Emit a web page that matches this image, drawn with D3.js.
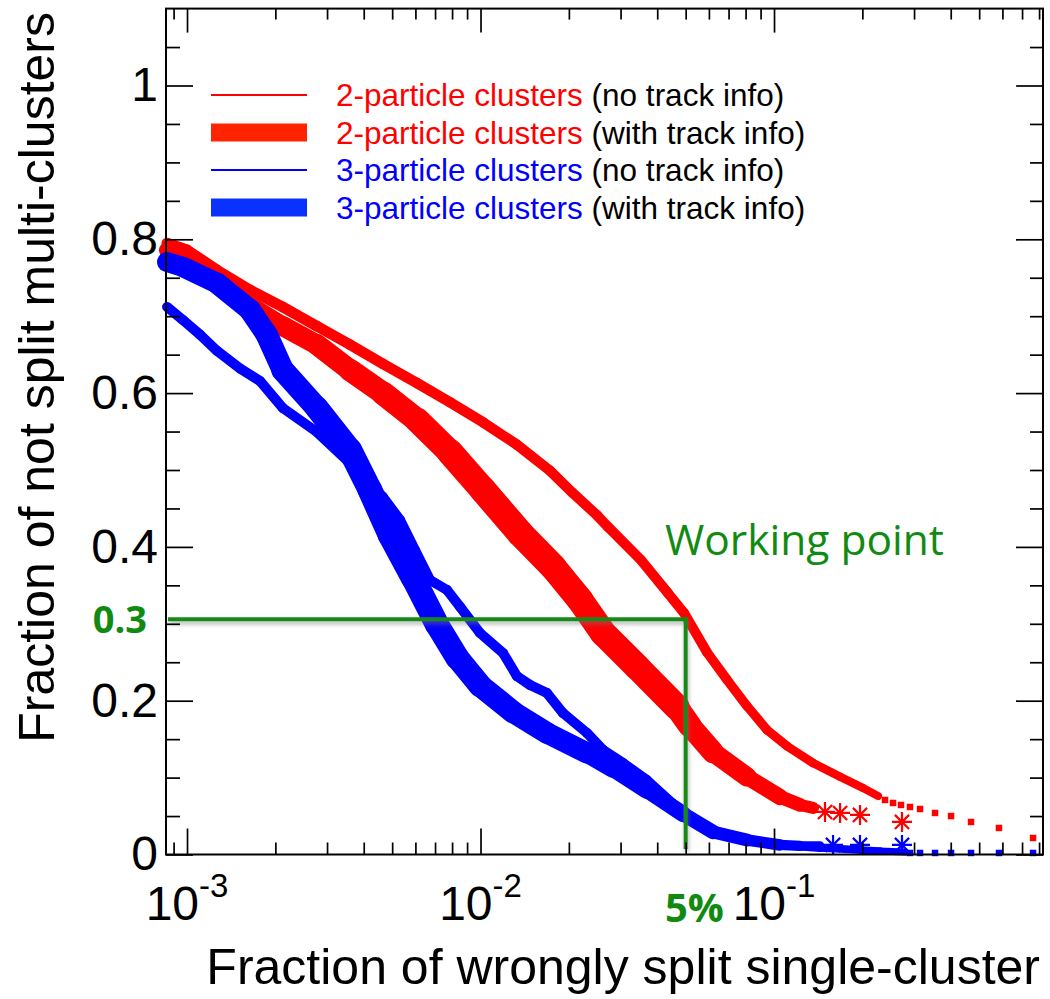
<!DOCTYPE html>
<html>
<head>
<meta charset="utf-8">
<script src="https://cdn.jsdelivr.net/npm/d3@7"></script>
<style>
  body { margin: 0; background: #fff; }
  svg { display: block; }
</style>
</head>
<body>
<script>
// values
// x = fraction of wrongly split single-cluster, y = fraction of not split multi-clusters

// 2-particle clusters, no track info (dense part + sparse markers at the end)
var red2NoTrackX = [0.000855, 0.001, 0.001265, 0.00164, 0.00212, 0.00277, 0.00359, 0.00465, 0.00608, 0.00787,
    0.0102, 0.0133, 0.01725, 0.0205, 0.02495, 0.0272, 0.0352, 0.0435, 0.0494, 0.0591,
    0.0692, 0.0809, 0.0947, 0.1107, 0.1358, 0.1679, 0.201, 0.2261];
var red2NoTrackY = [0.795, 0.786, 0.760, 0.734, 0.712, 0.687, 0.663, 0.638, 0.613, 0.588,
    0.562, 0.533, 0.499, 0.471, 0.441, 0.426, 0.383, 0.340, 0.314, 0.263,
    0.227, 0.193, 0.162, 0.141, 0.119, 0.101, 0.0865, 0.076];
var red2NoTrackTailX = [0.2389, 0.2544, 0.2708, 0.2906, 0.3144, 0.3537, 0.401, 0.469, 0.584, 0.763];
var red2NoTrackTailY = [0.0709, 0.067, 0.0644, 0.0618, 0.0592, 0.054, 0.050, 0.0423, 0.0345, 0.0215];

// 2-particle clusters, with track info
var red2TrackX = [0.000855, 0.001, 0.001265, 0.00164, 0.00212, 0.00277, 0.00359, 0.00465, 0.00608, 0.00787,
    0.0102, 0.01363, 0.01766, 0.02183, 0.02615, 0.03414, 0.04654, 0.05153, 0.06197, 0.0809,
    0.1048, 0.1226, 0.1358];
var red2TrackY = [0.786, 0.776, 0.747, 0.713, 0.687, 0.663, 0.630, 0.600, 0.565, 0.523,
    0.474, 0.418, 0.374, 0.331, 0.288, 0.244, 0.192, 0.168, 0.133, 0.101,
    0.0748, 0.0644, 0.0605];
var red2TrackTailX = [0.1492, 0.1679, 0.1963, 0.2729];
var red2TrackTailY = [0.0553, 0.054, 0.0514, 0.0423];

// 3-particle clusters, no track info
var blue3NoTrackX = [0.000855, 0.000969, 0.001107, 0.001265, 0.001516, 0.001773, 0.00212, 0.00277, 0.00359, 0.00465,
    0.00532, 0.00598, 0.00673, 0.00769, 0.00852, 0.00996, 0.01193, 0.0133, 0.01475, 0.01685,
    0.0191, 0.02306, 0.02615, 0.03059, 0.03693, 0.04783, 0.06197, 0.0809, 0.1048, 0.1434,
    0.1963, 0.2297, 0.2794];
var blue3NoTrackY = [0.712, 0.695, 0.676, 0.655, 0.632, 0.6157, 0.5806, 0.5494, 0.5091, 0.4649,
    0.435, 0.396, 0.357, 0.344, 0.322, 0.288, 0.262, 0.232, 0.2204, 0.21,
    0.184, 0.158, 0.136, 0.119, 0.0969, 0.0579, 0.0319, 0.0189, 0.0124, 0.0085,
    0.0059, 0.0046, 0.0033];
var blue3NoTrackTailX = [0.2906, 0.3144, 0.3537, 0.401, 0.469, 0.584, 0.763];
var blue3NoTrackTailY = [0.002, 0.002, 0.002, 0.002, 0.002, 0.002, 0.002];

// 3-particle clusters, with track info
var blue3TrackX = [0.000855, 0.000969, 0.001265, 0.00164, 0.001873, 0.00212, 0.00277, 0.00359, 0.0042, 0.00492,
    0.00589, 0.00711, 0.00832, 0.00996, 0.0129, 0.01685, 0.02306, 0.02828, 0.03693, 0.04897,
    0.06197, 0.0809, 0.1048, 0.1226, 0.1434];
var blue3TrackY = [0.7705, 0.764, 0.743, 0.708, 0.6755, 0.630, 0.5806, 0.526, 0.474, 0.4155,
    0.3602, 0.2991, 0.2562, 0.2198, 0.1853, 0.158, 0.132, 0.1125, 0.0839, 0.0527,
    0.0293, 0.0189, 0.0124, 0.0111, 0.0111];
var blue3TrackTailX = [0.1589, 0.1963, 0.2729];
var blue3TrackTailY = [0.0124, 0.0124, 0.0124];

// working point
var workingPointX = 0.05;
var workingPointY = 0.306;
var workingPointLabels = ["Working point", "0.3", "5%"];

// legend texts
var legendNames = ["2-particle clusters", "2-particle clusters", "3-particle clusters", "3-particle clusters"];
var legendNotes = ["(no track info)", "(with track info)", "(no track info)", "(with track info)"];

// ticks
var xMajorTicks = [1e-3, 1e-2, 1e-1];
var xMinorTicks = [9e-4, 2e-3, 3e-3, 4e-3, 5e-3, 6e-3, 7e-3, 8e-3, 9e-3,
    2e-2, 3e-2, 4e-2, 5e-2, 6e-2, 7e-2, 8e-2, 9e-2, 0.2, 0.3, 0.4, 0.5, 0.6, 0.7, 0.8];
var yMajorTicks = [0, 0.2, 0.4, 0.6, 0.8, 1];
var yMinorTicks = [0.05, 0.1, 0.15, 0.25, 0.3, 0.35, 0.45, 0.5, 0.55, 0.65, 0.7, 0.75,
    0.85, 0.9, 0.95, 1.05];

var svgWidth = 1050, svgHeight = 999;
var frame = {left: 166, right: 1043, top: 8.6, bottom: 854.5};
var fontMain = "'Liberation Sans', Arial, Helvetica, sans-serif";
var fontNote = "'Open Sans', 'Noto Sans', sans-serif";
var red = "#ff0000", blue = "#0000ff", green = "#128a12";

var xScale = d3.scaleLog()
        .domain([0.000848, 0.825])
        .range([frame.left, frame.right]);
var yScale = d3.scaleLinear()
        .domain([0, 1.1])
        .range([frame.bottom, frame.top]);

var svg = d3.select("body").append("svg")
        .attr("width", svgWidth)
        .attr("height", svgHeight);

// shadow under the green lines
svg.append("defs").append("filter")
        .attr("id", "shadow")
        .attr("x", "-20%").attr("y", "-20%")
        .attr("width", "140%").attr("height", "140%")
    .append("feDropShadow")
        .attr("dx", 1).attr("dy", 3)
        .attr("stdDeviation", 2)
        .attr("flood-color", "#777")
        .attr("flood-opacity", 0.55);

var plot = svg.append("g").attr("class", "plot");

// band drawn segment by segment, width follows x
function drawBand(xs, ys, color, widthScale) {
    var g = plot.append("g");
    for (var i = 0; i < xs.length - 1; i++) {
        g.append("line")
            .attr("x1", xScale(xs[i])).attr("y1", yScale(ys[i]))
            .attr("x2", xScale(xs[i + 1])).attr("y2", yScale(ys[i + 1]))
            .attr("stroke", color)
            .attr("stroke-width", widthScale(Math.sqrt(xs[i] * xs[i + 1])))
            .attr("stroke-linecap", "round");
    }
}

// 8 arm star marker
var starSymbol = {
    draw: function(context, size) {
        var r = Math.sqrt(size) / 2;
        var d = r * Math.SQRT1_2;
        context.moveTo(0, -r); context.lineTo(0, r);
        context.moveTo(-r, 0); context.lineTo(r, 0);
        context.moveTo(-d, -d); context.lineTo(d, d);
        context.moveTo(-d, d); context.lineTo(d, -d);
    }
};

function drawSquares(xs, ys, color) {
    plot.append("g").selectAll("path")
        .data(xs)
        .enter()
        .append("path")
        .attr("transform", function(d, i) { return "translate(" + xScale(d) + "," + yScale(ys[i]) + ")"; })
        .attr("d", d3.symbol().type(d3.symbolSquare).size(42))
        .attr("fill", color);
}

function drawStars(xs, ys, color) {
    plot.append("g").selectAll("path")
        .data(xs)
        .enter()
        .append("path")
        .attr("transform", function(d, i) { return "translate(" + xScale(d) + "," + yScale(ys[i]) + ")"; })
        .attr("d", d3.symbol().type(starSymbol).size(400))
        .attr("fill", "none")
        .attr("stroke", color)
        .attr("stroke-width", 2.2);
}

var thinRedWidth = d3.scaleLog().domain([1e-3, 0.05, 0.22]).range([11, 10, 8]).clamp(true);
var thickRedWidth = d3.scaleLog().domain([9e-4, 3e-3, 1e-2, 4e-2, 0.08, 0.13]).range([16, 21, 27, 26, 18, 12]).clamp(true);
var thinBlueWidth = d3.scaleLog().domain([1e-3, 0.03, 0.28]).range([10, 10, 7]).clamp(true);
var thickBlueWidth = d3.scaleLog().domain([9e-4, 5e-3, 2e-2, 0.06, 0.14]).range([20, 25, 21, 14, 9]).clamp(true);

drawBand(red2NoTrackX, red2NoTrackY, red, thinRedWidth);
drawSquares(red2NoTrackTailX, red2NoTrackTailY, red);
drawBand(red2TrackX, red2TrackY, red, thickRedWidth);
drawStars(red2TrackTailX, red2TrackTailY, red);
drawBand(blue3NoTrackX, blue3NoTrackY, blue, thinBlueWidth);
drawSquares(blue3NoTrackTailX, blue3NoTrackTailY, blue);
drawBand(blue3TrackX, blue3TrackY, blue, thickBlueWidth);
drawStars(blue3TrackTailX, blue3TrackTailY, blue);

// working point lines
var wp = svg.append("g").attr("filter", "url(#shadow)");
wp.append("line")
    .attr("x1", frame.left + 2).attr("x2", xScale(workingPointX) + 2)
    .attr("y1", yScale(workingPointY)).attr("y2", yScale(workingPointY))
    .attr("stroke", green).attr("stroke-width", 4);
wp.append("line")
    .attr("x1", xScale(workingPointX)).attr("x2", xScale(workingPointX))
    .attr("y1", yScale(workingPointY) - 2).attr("y2", yScale(0.007))
    .attr("stroke", green).attr("stroke-width", 4);

// frame ticks on all four sides, pointing inwards
var axes = svg.append("g").attr("class", "axes");
function tickAxis(axisFn, values, size, translate) {
    axes.append("g")
        .attr("transform", translate)
        .call(axisFn.tickValues(values).tickSize(size).tickSizeOuter(0).tickFormat(""))
        .call(function(g) { g.select(".domain").remove(); })
        .selectAll("line")
        .attr("stroke", "#000")
        .attr("stroke-width", 1.7);
}
tickAxis(d3.axisBottom(xScale), xMajorTicks, -26, "translate(0," + frame.bottom + ")");
tickAxis(d3.axisBottom(xScale), xMinorTicks, -12, "translate(0," + frame.bottom + ")");
tickAxis(d3.axisTop(xScale), xMajorTicks, -24, "translate(0," + frame.top + ")");
tickAxis(d3.axisTop(xScale), xMinorTicks, -11, "translate(0," + frame.top + ")");
tickAxis(d3.axisLeft(yScale), yMajorTicks, -27, "translate(" + frame.left + ",0)");
tickAxis(d3.axisLeft(yScale), yMinorTicks, -14, "translate(" + frame.left + ",0)");
tickAxis(d3.axisRight(yScale), yMajorTicks, -27, "translate(" + frame.right + ",0)");
tickAxis(d3.axisRight(yScale), yMinorTicks, -13, "translate(" + frame.right + ",0)");

svg.append("rect")
    .attr("x", frame.left).attr("y", frame.top)
    .attr("width", frame.right - frame.left)
    .attr("height", frame.bottom - frame.top)
    .attr("fill", "none")
    .attr("stroke", "#000")
    .attr("stroke-width", 2);

// y tick labels
var yLabels = svg.append("g")
    .attr("transform", "translate(" + frame.left + ",0)")
    .call(d3.axisLeft(yScale).tickValues(yMajorTicks).tickSize(0).tickPadding(8)
        .tickFormat(function(d) { return d === 0 || d === 1 ? String(d) : d3.format(".1f")(d); }));
yLabels.select(".domain").remove();
yLabels.selectAll("text")
    .attr("font-family", fontMain)
    .attr("font-size", 48)
    .attr("fill", "#000");

// x tick labels with exponents
var xLabels = svg.append("g").selectAll("text")
    .data(xMajorTicks)
    .enter()
    .append("text")
    .attr("x", function(d) { return xScale(d); })
    .attr("y", 920)
    .attr("text-anchor", "middle")
    .attr("font-family", fontMain)
    .attr("font-size", 48)
    .attr("fill", "#000")
    .text("10");
xLabels.append("tspan")
    .attr("dy", -23)
    .attr("font-size", 33)
    .text(function(d) { return String(Math.round(Math.log10(d))); });

// axis titles
svg.append("text")
    .attr("x", frame.right - 3)
    .attr("y", 984)
    .attr("text-anchor", "end")
    .attr("font-family", fontMain)
    .attr("font-size", 50)
    .attr("fill", "#000")
    .text("Fraction of wrongly split single-cluster");

svg.append("text")
    .attr("transform", "translate(54,12) rotate(-90)")
    .attr("text-anchor", "end")
    .attr("font-family", fontMain)
    .attr("font-size", 50)
    .attr("fill", "#000")
    .text("Fraction of not split multi-clusters");

// legend
var legendColors = [red, red, blue, blue];
var legend = svg.append("g").attr("class", "legend");
legendNames.forEach(function(name, i) {
    var rowY = 95 + i * 37.5;
    if (i % 2 === 0) {
        legend.append("line")
            .attr("x1", 211).attr("x2", 307)
            .attr("y1", rowY).attr("y2", rowY)
            .attr("stroke", legendColors[i])
            .attr("stroke-width", 2);
    } else {
        legend.append("rect")
            .attr("x", 211).attr("y", rowY - 9)
            .attr("width", 96).attr("height", 18)
            .attr("fill", i === 1 ? "#ff2400" : "#0a32ff");
    }
    var t = legend.append("text")
        .attr("x", 336)
        .attr("y", rowY + 11)
        .attr("font-family", fontMain)
        .attr("font-size", 31.5);
    t.append("tspan").attr("fill", legendColors[i]).text(name);
    t.append("tspan").attr("fill", "#000").text(" " + legendNotes[i]);
});

// working point annotation
svg.append("text")
    .attr("x", 665).attr("y", 555)
    .attr("font-family", fontNote)
    .attr("font-size", 42.5)
    .attr("fill", green)
    .text(workingPointLabels[0]);
svg.append("text")
    .attr("x", 147).attr("y", yScale(workingPointY) + 14)
    .attr("text-anchor", "end")
    .attr("font-family", fontNote)
    .attr("font-weight", "bold")
    .attr("font-size", 38)
    .attr("fill", green)
    .text(workingPointLabels[1]);
svg.append("text")
    .attr("x", 665).attr("y", 922)
    .attr("font-family", fontNote)
    .attr("font-weight", "bold")
    .attr("font-size", 40)
    .attr("fill", green)
    .text(workingPointLabels[2]);
</script>
</body>
</html>
